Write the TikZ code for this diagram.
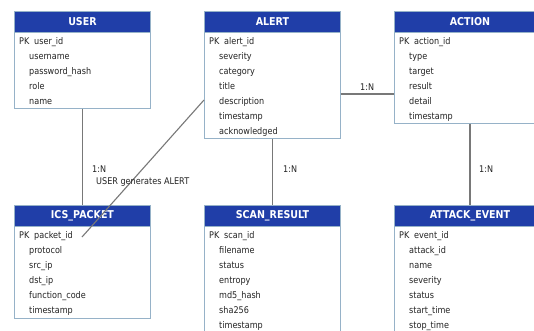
\documentclass[tikz,border=0pt]{standalone}
\usepackage{fontspec}
\setmainfont{DejaVu Sans}[FakeStretch=0.88]
\definecolor{headblue}{RGB}{32,62,168}
\definecolor{boxedge}{RGB}{150,178,200}
\definecolor{linkgray}{RGB}{120,120,120}
\definecolor{txt}{RGB}{35,35,35}
\tikzset{
  entbody/.style={draw=boxedge, line width=0.9pt, fill=white, anchor=north west, inner sep=0pt},
  enthead/.style={draw=boxedge, line width=0.9pt, fill=headblue, text=white, anchor=north west,
    inner sep=0pt, minimum height=21pt, font=\bfseries\fontsize{10.8}{12}\selectfont},
  fld/.style={anchor=base west, inner sep=0pt, text=txt, font=\fontsize{9.2}{10}\selectfont},
  rel/.style={draw=linkgray, line width=1.1pt},
  card/.style={anchor=west, inner sep=0pt, text=txt, font=\fontsize{9.2}{10}\selectfont}
}
% entity: name, left x, top y, width, height, title, list of fields (first one is the key)
\newcommand\entitybox[7]{%
  \node[entbody, minimum width=#4pt, minimum height=#5pt] (#1) at (#2,#3) {};
  \node[enthead, minimum width=#4pt] (#1-head) at (#2,#3) {#6};
  \foreach \f [count=\i from 0] in {#7} {
    \ifnum\i=0
      \node[fld] at ({#2+5},{#3+33.4}) {PK};
      \node[fld] at ({#2+20},{#3+33.4}) {\f};
    \else
      \node[fld] at ({#2+15},{#3+33.4+15*\i}) {\f};
    \fi
  }
}
\begin{document}
\begin{tikzpicture}[x=1pt,y=-1pt]
  \useasboundingbox (0,0) rectangle (534,330);
  \fill[white] (0,0) rectangle (534,330);
  \clip (0,0) rectangle (534,330);

  \coordinate (pktend) at (82,237);

  \entitybox{user}{14}{11}{136}{97}{USER}{user\_id,username,password\_hash,role,name}
  \entitybox{alert}{204}{11}{136}{127}{ALERT}{alert\_id,severity,category,title,description,timestamp,acknowledged}
  \entitybox{action}{394}{11}{151}{112}{ACTION}{action\_id,type,target,result,detail,timestamp}
  \entitybox{ics}{14}{205}{136}{113}{ICS\_PACKET}{packet\_id,protocol,src\_ip,dst\_ip,function\_code,timestamp}
  \entitybox{scan}{204}{205}{136}{130}{SCAN\_RESULT}{scan\_id,filename,status,entropy,md5\_hash,sha256,timestamp}
  \entitybox{attack}{394}{205}{151}{130}{ATTACK\_EVENT}{event\_id,attack\_id,name,severity,status,start\_time,stop\_time}

  % relationships
  \draw[rel] (user.south) -- (ics-head.north);
  \draw[rel] (alert.south) -- (scan-head.north);
  \draw[rel] (action.south) -- (attack-head.north);
  \draw[rel] (alert.east |- {(0,94)}) -- (action.west |- {(0,94)});
  \draw[rel] (alert.west |- {(0,100)}) -- (pktend);

  % cardinality labels
  \node[card] (c1) at (92,169) {1:N};
  \node[card] (c1b) at (96,182) {USER generates ALERT};
  \node[card] (c2) at (283,169) {1:N};
  \node[card] (c3) at (479,169) {1:N};
  \node[card] (c4) at (360,87) {1:N};
\end{tikzpicture}
\end{document}
